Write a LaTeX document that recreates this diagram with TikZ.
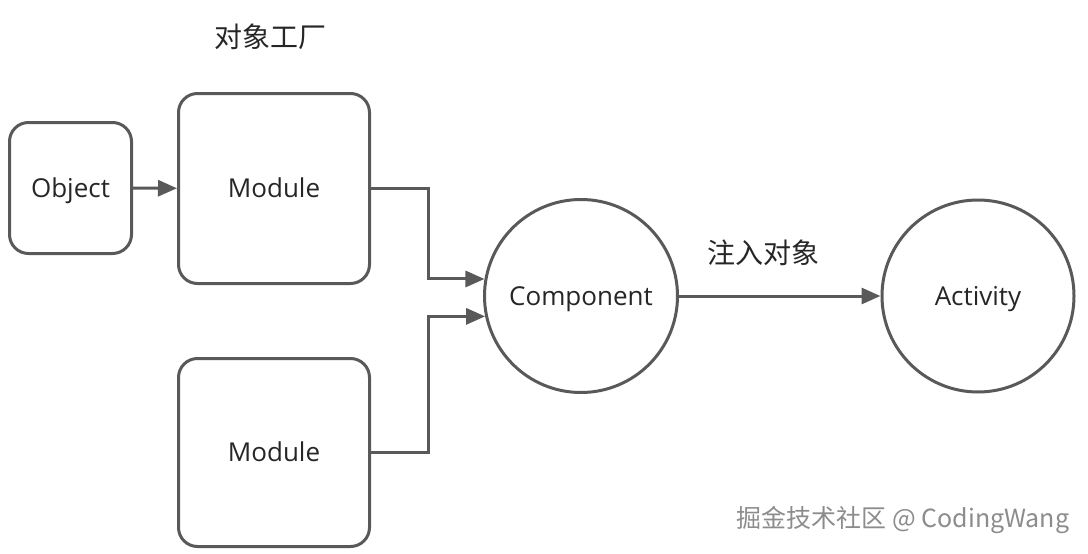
\documentclass[tikz,border=0pt]{standalone}
\usepackage{fontspec}
\setmainfont{Open Sans}
\newfontfamily\cjk{Noto Sans CJK SC}
\usetikzlibrary{arrows.meta}
\definecolor{linegray}{HTML}{595959}
\definecolor{textgray}{HTML}{262626}
\definecolor{markgray}{HTML}{8C8C8C}

\begin{document}
\begin{tikzpicture}[x=1pt, y=-1pt,
        box/.style={draw=linegray, line width=3pt, rounded corners=19pt, text=textgray,
            font=\fontsize{26}{30}\selectfont, text height=18.7pt, text depth=0pt,
            minimum width=191pt, minimum height=190pt},
        ball/.style={draw=linegray, line width=3pt, circle, text=textgray,
            font=\fontsize{26}{30}\selectfont, text height=18.7pt, text depth=0pt,
            minimum size=193pt, inner sep=0pt},
        link/.style={draw=linegray, line width=3pt, -{Triangle[length=19pt, width=16pt]}},
        caption/.style={text=textgray, font=\cjk\fontsize{28}{32}\selectfont}]
        \useasboundingbox (0,0) rectangle (1088,554);
        \node[box, minimum width=122pt, minimum height=131pt] (obj) at (70.5,188) {Object};
        \node[box] (mod1) at (274,188.5) {Module};
        \node[box, minimum height=188pt] (mod2) at (274,452.5) {Module};
        \node[ball] (comp) at (581,296) {Component};
        \node[ball, minimum size=192pt] (act) at (978,296) {Activity};
        \node[caption] (factory) at (270,37) {对象工厂};
        \node[caption] (inject) at (763,253) {注入对象};
        \node[text=markgray, font=\cjk\fontsize{25}{28}\selectfont] (mark) at (903,520) {掘金技术社区 @ CodingWang};
        \draw[link] (obj) -- (mod1);
        \draw[link] (mod1.east) -- ++(57,0) |- (comp.170);
        \draw[link] (mod2.east) -- ++(57,0) |- (comp.192);
        \draw[link] (comp) -- (act);
    \end{tikzpicture}
\end{document}
